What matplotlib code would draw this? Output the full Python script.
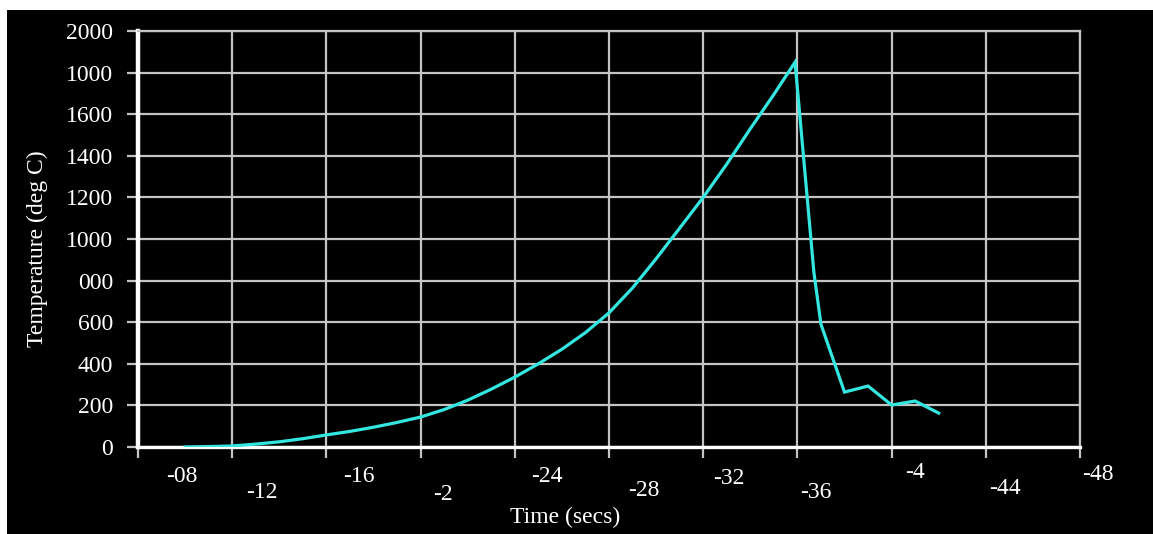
import matplotlib
matplotlib.use("Agg")
import matplotlib.pyplot as plt
from matplotlib.patches import Rectangle

# furnace thermocouple trace
time_s = [1.0, 1.1, 1.2, 1.3, 1.4, 1.5, 1.6, 1.7, 1.8, 1.9, 2.0,
          2.1, 2.2, 2.3, 2.4, 2.5, 2.6, 2.7, 2.8, 2.9, 3.0,
          3.1, 3.2, 3.3, 3.4, 3.5, 3.59,
          3.67, 3.70, 3.80, 3.90, 4.0, 4.1, 4.2]
temp_c = [0, 2, 5, 14, 25, 40, 58, 75, 95, 118, 144,
          180, 225, 278, 336, 400, 470, 550, 645, 765, 905,
          1052, 1200, 1360, 1530, 1695, 1850,
          840, 590, 264, 293, 202, 221, 163]

x_ticks = [0.8, 1.2, 1.6, 2.0, 2.4, 2.8, 3.2, 3.6, 4.0, 4.4, 4.8]
x_labels = ["-08", "-12", "-16", "-2", "-24", "-28", "-32", "-36", "-4", "-44", "-48"]
y_ticks = [0, 200, 400, 600, 800, 1000, 1200, 1400, 1600, 1800, 2000]
y_labels = ["0", "200", "400", "600", "000", "1000", "1200", "1400", "1600", "1000", "2000"]

# staggered x label placement (pixels from tick / axis)
label_dx = [44, 30, 32, 22, 32, 35, 26, 18, 23, 19, 18]
label_dy = [30, 46, 30, 47, 30, 43, 31, 46, 26, 42, 27]

plt.rcParams['font.family'] = ['Liberation Serif', 'DejaVu Serif']
grid_col = "#c4c4c4"
fs = 17

fig = plt.figure(figsize=(11.53, 5.34), dpi=100, facecolor="white")
fig.patches.append(Rectangle((7 / 1153, 0), 1, 1 - 10 / 534, transform=fig.transFigure,
                             facecolor="black", edgecolor="none", zorder=-10))

ax = fig.add_axes([138 / 1153, 1 - 447 / 534, (1080 - 138) / 1153, (447 - 31) / 534])
ax.set_facecolor("black")
ax.plot(time_s, temp_c, color="#33e6e0", lw=2.3, solid_joinstyle="miter", zorder=3)

ax.set_xlim(0.8, 4.8)
ax.set_ylim(0, 2000)
ax.set_xticks(x_ticks)
ax.set_xticklabels([])
ax.set_yticks(y_ticks)
ax.set_yticklabels(y_labels, color="white", fontsize=fs)
ax.grid(True, color=grid_col, lw=1.6)
ax.tick_params(axis="both", direction="out", length=8, width=1.6, color=grid_col)
ax.tick_params(axis="y", pad=10)

for side in ["top", "right"]:
    ax.spines[side].set_color(grid_col)
    ax.spines[side].set_linewidth(1.6)
ax.spines["left"].set_color("white")
ax.spines["left"].set_linewidth(3.2)
ax.spines["bottom"].set_color("white")
ax.spines["bottom"].set_linewidth(2.4)

for xv, lab, dx, dy in zip(x_ticks, x_labels, label_dx, label_dy):
    ax.annotate(lab, xy=(xv, 0), xycoords=("data", "axes fraction"),
                xytext=(dx, -dy), textcoords="offset pixels",
                ha="center", va="center", color="white", fontsize=fs)

fig.text(565 / 1153, 1 - 517 / 534, "Time (secs)", ha="center", va="center",
         color="white", fontsize=fs)
fig.text(37 / 1153, 1 - 249 / 534, "Temperature (deg C)", ha="center", va="center",
         rotation=90, color="white", fontsize=fs)

fig.savefig("out.png", dpi=100, facecolor=fig.get_facecolor())
